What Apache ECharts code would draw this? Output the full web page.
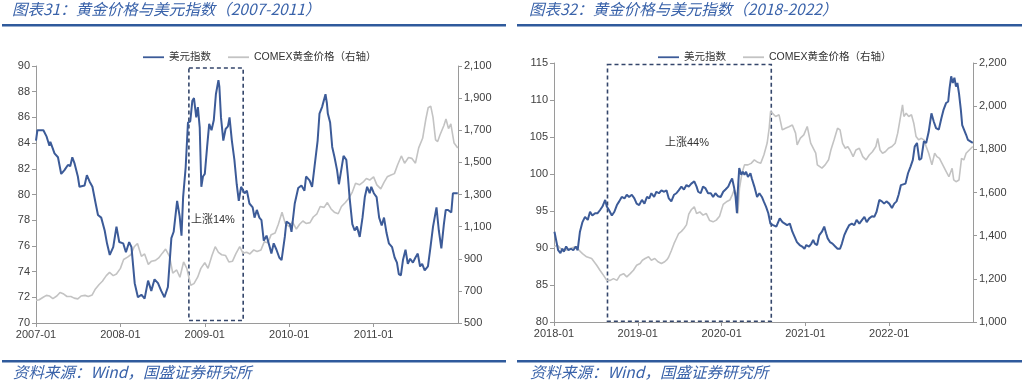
<!DOCTYPE html>
<html><head><meta charset="utf-8">
<script src="https://cdn.jsdelivr.net/npm/echarts@6/dist/echarts.min.js"></script>
<style>html,body{margin:0;padding:0;background:#fff}#c{width:1024px;height:381px}</style>
</head><body><div id="c"></div>
<script>
// ---------- Chart 31 (2007-2011) ----------
const usdDates1 = ['2007-01-01','2007-01-07','2007-02-02','2007-02-16','2007-02-28','2007-03-04','2007-03-12','2007-03-22','2007-04-06','2007-04-20','2007-05-04','2007-05-19','2007-05-29','2007-06-07','2007-06-17','2007-07-01','2007-07-08','2007-07-30','2007-08-09','2007-08-21','2007-09-02','2007-09-16','2007-09-26','2007-10-10','2007-10-25','2007-11-04','2007-11-16','2007-12-01','2007-12-15','2007-12-27','2008-01-13','2008-01-25','2008-02-08','2008-02-18','2008-03-03','2008-03-17','2008-04-01','2008-04-15','2008-04-30','2008-05-14','2008-05-28','2008-06-12','2008-06-26','2008-07-10','2008-07-25','2008-08-09','2008-08-19','2008-09-03','2008-09-14','2008-09-22','2008-09-29','2008-10-10','2008-10-20','2008-10-30','2008-11-08','2008-11-15','2008-11-25','2008-12-02','2008-12-10','2008-12-17','2008-12-24','2009-01-01','2009-01-11','2009-01-20','2009-01-30','2009-02-09','2009-02-18','2009-03-01','2009-03-05','2009-03-12','2009-03-22','2009-04-01','2009-04-11','2009-04-18','2009-04-28','2009-05-09','2009-05-19','2009-05-28','2009-06-07','2009-06-22','2009-07-02','2009-07-13','2009-07-27','2009-08-04','2009-08-14','2009-08-25','2009-09-03','2009-09-13','2009-09-25','2009-10-09','2009-10-16','2009-10-26','2009-11-07','2009-11-19','2009-11-29','2009-12-13','2009-12-20','2010-01-04','2010-01-11','2010-01-25','2010-02-09','2010-02-23','2010-03-08','2010-03-15','2010-03-30','2010-04-10','2010-04-20','2010-05-04','2010-05-12','2010-05-23','2010-06-07','2010-06-13','2010-06-17','2010-06-27','2010-07-06','2010-07-16','2010-07-27','2010-08-04','2010-08-14','2010-08-24','2010-09-05','2010-09-12','2010-09-19','2010-10-01','2010-10-11','2010-10-21','2010-11-02','2010-11-14','2010-11-24','2010-12-04','2010-12-15','2010-12-22','2011-01-02','2011-01-14','2011-01-25','2011-02-05','2011-02-15','2011-02-26','2011-03-08','2011-03-22','2011-04-02','2011-04-12','2011-04-20','2011-04-29','2011-05-08','2011-05-19','2011-05-29','2011-06-08','2011-06-20','2011-07-01','2011-07-11','2011-07-21','2011-07-30','2011-08-10','2011-08-24','2011-09-04','2011-09-15','2011-09-30','2011-10-10','2011-10-21','2011-11-01','2011-11-09','2011-11-19','2011-12-03','2011-12-10','2011-12-22','2011-12-31'];
const usdValues1 = [84.2,85.0,85.0,84.5,83.8,84.1,83.7,83.2,82.9,81.6,81.9,82.3,82.2,82.9,82.4,81.4,80.6,80.7,81.5,81.0,80.6,79.3,78.4,78.2,77.2,76.2,75.3,75.9,77.5,76.3,76.2,75.5,76.3,75.9,73.1,72.0,72.2,71.9,73.3,72.5,73.4,73.1,72.5,72.0,72.8,76.6,77.1,79.5,78.3,76.8,79.8,82.1,85.6,85.7,87.3,87.5,86.0,86.8,85.2,80.6,81.4,81.6,83.7,85.5,85.0,85.8,87.8,88.9,88.4,86.0,84.2,85.1,85.3,86.0,84.2,82.7,80.8,79.5,80.6,80.1,80.3,79.3,79.0,78.2,78.8,78.2,78.0,76.4,76.8,75.9,75.4,76.2,75.7,75.1,74.9,76.7,77.9,77.7,77.1,79.3,80.5,80.7,80.3,81.4,81.1,80.6,82.1,84.2,86.3,86.8,87.8,87.1,86.3,85.6,83.7,82.9,81.9,80.8,81.9,83.0,82.7,81.4,79.8,77.7,77.2,77.5,76.7,78.2,79.8,80.6,80.1,80.6,80.1,79.8,78.2,77.6,78.2,77.0,76.2,75.9,75.1,74.7,73.8,73.7,74.9,75.7,74.6,75.0,74.7,75.1,75.4,74.4,74.6,74.1,74.4,75.9,77.5,79.0,77.2,75.8,77.7,78.8,78.8,78.6,80.1,80.1,80.1];
const goldDates1 = ['2007-01-01','2007-01-15','2007-02-01','2007-02-15','2007-03-01','2007-03-15','2007-04-01','2007-04-15','2007-05-01','2007-05-15','2007-06-01','2007-06-15','2007-07-01','2007-07-15','2007-08-01','2007-08-15','2007-09-01','2007-09-15','2007-10-01','2007-10-15','2007-11-01','2007-11-15','2007-12-01','2007-12-15','2008-01-01','2008-01-15','2008-02-01','2008-02-15','2008-03-01','2008-03-15','2008-04-01','2008-04-15','2008-05-01','2008-05-15','2008-06-01','2008-06-15','2008-07-01','2008-07-15','2008-08-01','2008-08-15','2008-09-01','2008-09-15','2008-10-01','2008-10-15','2008-11-01','2008-11-15','2008-12-01','2008-12-15','2009-01-01','2009-01-15','2009-02-01','2009-02-15','2009-03-01','2009-03-15','2009-04-01','2009-04-15','2009-05-01','2009-05-15','2009-06-01','2009-06-15','2009-07-01','2009-07-15','2009-08-01','2009-08-15','2009-09-01','2009-09-15','2009-10-01','2009-10-15','2009-11-01','2009-11-15','2009-12-01','2009-12-15','2010-01-01','2010-01-15','2010-02-01','2010-02-15','2010-03-01','2010-03-15','2010-04-01','2010-04-15','2010-05-01','2010-05-15','2010-06-01','2010-06-15','2010-07-01','2010-07-15','2010-08-01','2010-08-15','2010-09-01','2010-09-15','2010-10-01','2010-10-15','2010-11-01','2010-11-15','2010-12-01','2010-12-15','2011-01-01','2011-01-15','2011-02-01','2011-02-15','2011-03-01','2011-03-15','2011-04-01','2011-04-15','2011-05-01','2011-05-15','2011-06-01','2011-06-15','2011-07-01','2011-07-15','2011-08-01','2011-08-15','2011-08-25','2011-09-05','2011-09-15','2011-09-26','2011-10-05','2011-10-15','2011-11-01','2011-11-10','2011-11-21','2011-12-01','2011-12-15','2011-12-31'];
const goldValues1 = [640,645,660,672,668,652,668,690,680,665,665,655,650,668,672,665,675,712,740,760,795,815,795,805,840,895,910,925,975,995,915,930,865,885,890,905,935,960,915,810,830,785,880,840,735,745,785,840,875,840,920,975,940,925,920,880,885,930,975,935,940,930,955,945,955,1005,1000,1050,1060,1115,1190,1120,1100,1130,1085,1115,1135,1120,1125,1160,1180,1225,1220,1250,1210,1190,1180,1225,1250,1275,1315,1370,1360,1375,1400,1390,1410,1360,1335,1375,1410,1420,1430,1485,1540,1495,1530,1525,1495,1590,1650,1770,1840,1850,1780,1640,1630,1670,1730,1770,1710,1740,1620,1590];
const xTicks1 = [2007, 2012];           // axis span (years), ticks every year
const usdTicks1 = [70, 90, 2];          // min, max, interval
const goldTicks1 = [500, 2100, 200];
const box1 = ['2008-10-24', 89.85, '2009-06-16', 70.2];
const note1 = ['2009-02-05', 78, '上涨14%'];

// ---------- Chart 32 (2018-2022) ----------
const usdDates2 = ['2018-01-03','2018-01-10','2018-01-19','2018-01-29','2018-02-06','2018-02-13','2018-02-23','2018-03-05','2018-03-16','2018-03-26','2018-04-06','2018-04-14','2018-04-24','2018-05-05','2018-05-16','2018-05-28','2018-06-07','2018-06-17','2018-06-29','2018-07-10','2018-07-20','2018-07-31','2018-08-12','2018-08-19','2018-08-29','2018-09-10','2018-09-21','2018-10-02','2018-10-12','2018-10-23','2018-11-04','2018-11-14','2018-11-24','2018-12-06','2018-12-17','2018-12-27','2019-01-07','2019-01-19','2019-01-30','2019-02-10','2019-02-20','2019-03-01','2019-03-13','2019-03-23','2019-04-03','2019-04-14','2019-04-26','2019-05-06','2019-05-16','2019-05-27','2019-06-08','2019-06-18','2019-06-28','2019-07-10','2019-07-21','2019-08-01','2019-08-11','2019-08-22','2019-09-04','2019-09-14','2019-09-21','2019-10-02','2019-10-12','2019-10-22','2019-11-03','2019-11-15','2019-11-25','2019-12-05','2019-12-16','2019-12-28','2020-01-08','2020-01-18','2020-01-30','2020-02-09','2020-02-16','2020-02-25','2020-03-02','2020-03-08','2020-03-12','2020-03-18','2020-03-27','2020-04-03','2020-04-10','2020-04-17','2020-04-25','2020-05-06','2020-05-12','2020-05-23','2020-06-04','2020-06-14','2020-06-25','2020-07-03','2020-07-13','2020-07-23','2020-08-01','2020-08-13','2020-08-27','2020-09-11','2020-09-23','2020-10-03','2020-10-13','2020-10-25','2020-11-05','2020-11-15','2020-11-25','2020-12-07','2020-12-18','2020-12-28','2021-01-05','2021-01-17','2021-01-27','2021-02-04','2021-02-11','2021-02-21','2021-03-02','2021-03-14','2021-03-24','2021-04-01','2021-04-08','2021-04-18','2021-04-29','2021-05-11','2021-05-21','2021-06-01','2021-06-09','2021-06-19','2021-06-29','2021-07-11','2021-07-22','2021-08-02','2021-08-12','2021-08-24','2021-09-05','2021-09-15','2021-09-25','2021-10-06','2021-10-18','2021-10-28','2021-11-07','2021-11-19','2021-11-30','2021-12-10','2021-12-20','2022-01-01','2022-01-13','2022-01-23','2022-02-02','2022-02-11','2022-02-21','2022-03-01','2022-03-13','2022-03-24','2022-04-04','2022-04-14','2022-04-22','2022-05-02','2022-05-12','2022-05-21','2022-06-01','2022-06-11','2022-06-22','2022-07-04','2022-07-14','2022-07-24','2022-08-05','2022-08-16','2022-08-26','2022-09-06','2022-09-15','2022-09-21','2022-09-28','2022-10-05','2022-10-12','2022-10-19','2022-10-25','2022-11-01','2022-11-09','2022-11-15','2022-11-23','2022-12-02','2022-12-10','2022-12-31'];
const usdValues2 = [92.2,92.0,89.7,89.3,89.9,89.5,90.2,89.7,89.9,89.7,90.2,89.7,92.2,93.5,94.2,93.8,94.9,94.4,94.7,94.7,95.1,95.6,96.5,95.6,95.1,94.4,94.9,95.8,96.3,96.9,96.7,97.2,96.9,97.2,96.7,96.0,95.8,96.5,96.0,96.9,96.7,97.4,96.9,97.6,97.4,97.8,97.6,97.8,96.7,96.3,97.2,97.4,97.8,98.3,97.9,98.5,98.3,98.7,99.0,98.3,97.6,97.4,98.3,98.1,97.4,97.4,96.9,97.4,97.0,96.9,97.6,97.9,98.3,99.0,99.4,98.1,96.9,94.7,97.8,100.8,99.9,100.3,99.9,100.3,99.6,100.1,99.4,98.3,96.9,97.4,96.9,96.3,95.6,94.7,93.3,93.1,92.9,94.0,93.5,93.3,93.1,93.3,92.2,91.5,90.8,90.4,90.2,89.9,90.4,90.2,90.6,91.1,90.6,90.4,91.7,92.2,92.9,92.0,91.3,90.8,90.6,90.2,89.9,89.9,90.6,91.7,92.4,93.1,93.3,93.1,93.8,93.3,93.8,94.2,93.5,94.0,94.3,94.2,94.9,96.5,96.3,96.0,96.3,96.0,95.4,96.0,96.3,97.2,98.5,98.5,98.7,100.1,101.0,101.9,103.7,104.2,101.9,102.1,104.4,104.2,105.7,108.2,107.1,106.2,106.0,107.5,108.7,109.6,109.8,111.6,113.2,112.3,113.0,111.8,112.3,110.9,108.7,106.6,106.4,105.3,104.6,104.2];
const goldDates2 = ['2018-01-01','2018-01-15','2018-01-29','2018-02-20','2018-03-12','2018-04-03','2018-04-17','2018-05-05','2018-05-23','2018-06-14','2018-07-06','2018-07-20','2018-08-04','2018-08-19','2018-09-03','2018-09-17','2018-10-02','2018-10-16','2018-10-31','2018-11-14','2018-11-29','2018-12-13','2018-12-27','2019-01-11','2019-01-21','2019-02-02','2019-02-17','2019-03-01','2019-03-16','2019-03-30','2019-04-14','2019-04-28','2019-05-09','2019-05-15','2019-05-27','2019-06-08','2019-06-18','2019-06-28','2019-07-10','2019-07-21','2019-08-01','2019-08-11','2019-08-22','2019-09-04','2019-09-14','2019-09-28','2019-10-12','2019-10-26','2019-11-10','2019-11-25','2019-12-09','2019-12-23','2020-01-08','2020-01-22','2020-02-06','2020-02-16','2020-02-25','2020-03-05','2020-03-12','2020-03-19','2020-03-30','2020-04-10','2020-04-25','2020-05-09','2020-05-23','2020-06-07','2020-06-20','2020-07-04','2020-07-18','2020-07-27','2020-08-02','2020-08-24','2020-09-08','2020-09-22','2020-10-06','2020-10-21','2020-11-05','2020-11-19','2020-11-26','2020-12-10','2020-12-25','2021-01-09','2021-01-24','2021-02-15','2021-02-22','2021-03-14','2021-03-28','2021-04-12','2021-04-22','2021-05-06','2021-05-21','2021-06-01','2021-06-12','2021-06-24','2021-07-04','2021-07-14','2021-07-28','2021-08-09','2021-08-24','2021-09-08','2021-09-22','2021-10-06','2021-10-20','2021-11-04','2021-11-12','2021-11-22','2021-12-03','2021-12-15','2021-12-29','2022-01-13','2022-01-27','2022-02-07','2022-02-17','2022-02-28','2022-03-06','2022-03-16','2022-03-27','2022-04-08','2022-04-18','2022-04-28','2022-05-09','2022-05-21','2022-06-01','2022-06-11','2022-06-22','2022-07-06','2022-07-18','2022-07-28','2022-08-08','2022-08-19','2022-09-03','2022-09-18','2022-10-02','2022-10-09','2022-10-19','2022-11-01','2022-11-12','2022-11-22','2022-12-02','2022-12-31'];
const goldValues2 = [1348,1356,1341,1333,1341,1348,1336,1317,1302,1294,1263,1240,1217,1193,1193,1201,1193,1217,1224,1209,1224,1240,1263,1271,1286,1294,1302,1286,1294,1279,1271,1279,1290,1300,1330,1364,1387,1410,1420,1433,1450,1500,1520,1534,1503,1510,1495,1503,1470,1464,1472,1490,1545,1557,1565,1588,1612,1596,1503,1619,1690,1728,1728,1735,1751,1740,1736,1775,1829,1900,1976,1952,1960,1890,1898,1905,1913,1875,1821,1852,1867,1906,1829,1782,1728,1713,1728,1752,1797,1844,1898,1890,1828,1805,1813,1797,1766,1797,1805,1766,1751,1774,1789,1813,1851,1797,1782,1789,1805,1813,1828,1875,1936,2006,1952,1967,1952,1960,1921,1859,1844,1851,1844,1813,1782,1728,1782,1766,1758,1735,1704,1673,1712,1658,1650,1658,1758,1751,1782,1813];
const xTicks2 = [2018, 2023];
const usdTicks2 = [80, 115, 5];
const goldTicks2 = [1000, 2200, 200];
const box2 = ['2018-08-22', 114.8, '2020-08-05', 80.1];
const note2 = ['2019-08-03', 104.2, '上涨44%'];

const seriesNames = ['美元指数', 'COMEX黄金价格（右轴）'];

// ---------- helpers ----------
function toYear(s) {
  const p = s.split('-').map(Number);
  const a = Date.UTC(p[0], 0, 1), b = Date.UTC(p[0] + 1, 0, 1);
  return p[0] + (Date.UTC(p[0], p[1] - 1, p[2]) - a) / (b - a);
}
function pairs(dates, vals) { return dates.map((d, i) => [toYear(d), vals[i]]); }
function thousands(v) { return String(v).replace(/\B(?=(\d{3})+(?!\d))/g, ','); }

const BLUE = '#3C5B98', GRAY = '#C3C3C3', TXT = '#404040', AX = '#9A9A9A', TITLE = '#3A63AA';
const lab = { color: TXT, fontSize: 11, fontFamily: 'Liberation Sans, Arial, sans-serif' };

function xAxis(ix, ticks) {
  return { type: 'value', gridIndex: ix, min: ticks[0], max: ticks[1], interval: 1,
    axisLine: { lineStyle: { color: AX } }, axisTick: { length: 4, lineStyle: { color: AX } },
    splitLine: { show: false },
    axisLabel: Object.assign({ margin: 6, showMaxLabel: false, formatter: v => v + '-01' }, lab) };
}
function yAxis(ix, ticks, pos, fmt) {
  return { type: 'value', gridIndex: ix, position: pos, min: ticks[0], max: ticks[1], interval: ticks[2],
    axisLine: { show: true, lineStyle: { color: AX } }, axisTick: { show: true, length: 4, lineStyle: { color: AX } },
    splitLine: { show: false },
    axisLabel: Object.assign({ margin: 6, formatter: fmt }, lab) };
}
function box(b, note) {
  return {
    markArea: { silent: true,
      itemStyle: { color: 'rgba(0,0,0,0)', borderColor: '#34466B', borderWidth: 1.6, borderType: [4, 3] },
      data: [[{ xAxis: toYear(b[0]), yAxis: b[1] }, { xAxis: toYear(b[2]), yAxis: b[3] }]] },
    markPoint: { silent: true, symbol: 'rect', symbolSize: 0,
      label: { show: true, position: 'inside', formatter: note[2], color: '#333', fontSize: 11,
               fontFamily: 'Liberation Sans, Noto Sans CJK SC, sans-serif' },
      data: [{ coord: [toYear(note[0]), note[1]] }] }
  };
}
function goldSeries(xi, yi, d, v) {
  return { name: seriesNames[1], type: 'line', xAxisIndex: xi, yAxisIndex: yi, symbol: 'none',
    data: pairs(d, v), lineStyle: { color: GRAY, width: 1.6 }, itemStyle: { color: GRAY } };
}
function usdSeries(xi, yi, d, v, b, n) {
  return Object.assign({ name: seriesNames[0], type: 'line', xAxisIndex: xi, yAxisIndex: yi, symbol: 'none',
    data: pairs(d, v), lineStyle: { color: BLUE, width: 2 }, itemStyle: { color: BLUE } }, box(b, n));
}
function legend(left) {
  return { left: left, top: 47, data: seriesNames, icon: 'rect', itemWidth: 21, itemHeight: 1.8, itemGap: 17,
    textStyle: { color: '#333', fontSize: 10.5, fontFamily: 'Liberation Sans, Noto Sans CJK SC, sans-serif' } };
}
function header(x0, x1, tx, title) {
  const f = 'italic 15.5px "Noto Sans CJK SC", sans-serif';
  const ff = 'italic 15.5px "Noto Sans CJK SC", sans-serif';
  return [
    { type: 'text', left: tx, top: 1, style: { text: title, fill: TITLE, font: f } },
    { type: 'rect', shape: { x: x0, y: 24, width: x1 - x0, height: 2.5 }, style: { fill: '#2F5A9C' } },
    { type: 'rect', shape: { x: x0, y: 360, width: x1 - x0, height: 2.5 }, style: { fill: '#2F5A9C' } },
    { type: 'text', left: tx + 1, top: 364, style: { text: '资料来源：Wind，国盛证券研究所', fill: TITLE, font: ff } }
  ];
}

const chart = echarts.init(document.getElementById('c'));
chart.setOption({
  animation: false,
  backgroundColor: '#fff',
  grid: [
    { left: 36, top: 66, width: 422, height: 257, outerBoundsMode: 'none' },
    { left: 554, top: 63, width: 419, height: 259, outerBoundsMode: 'none' }
  ],
  legend: [legend(138), legend(653)],
  xAxis: [xAxis(0, xTicks1), xAxis(1, xTicks2)],
  yAxis: [
    yAxis(0, usdTicks1, 'left', v => String(v)),
    yAxis(0, goldTicks1, 'right', thousands),
    yAxis(1, usdTicks2, 'left', v => String(v)),
    yAxis(1, goldTicks2, 'right', thousands)
  ],
  series: [
    goldSeries(0, 1, goldDates1, goldValues1),
    usdSeries(0, 0, usdDates1, usdValues1, box1, note1),
    goldSeries(1, 3, goldDates2, goldValues2),
    usdSeries(1, 2, usdDates2, usdValues2, box2, note2)
  ],
  graphic: header(2, 506, 12, '图表31：黄金价格与美元指数（2007-2011）')
    .concat(header(517, 1022, 529, '图表32：黄金价格与美元指数（2018-2022）'))
});
</script></body></html>
